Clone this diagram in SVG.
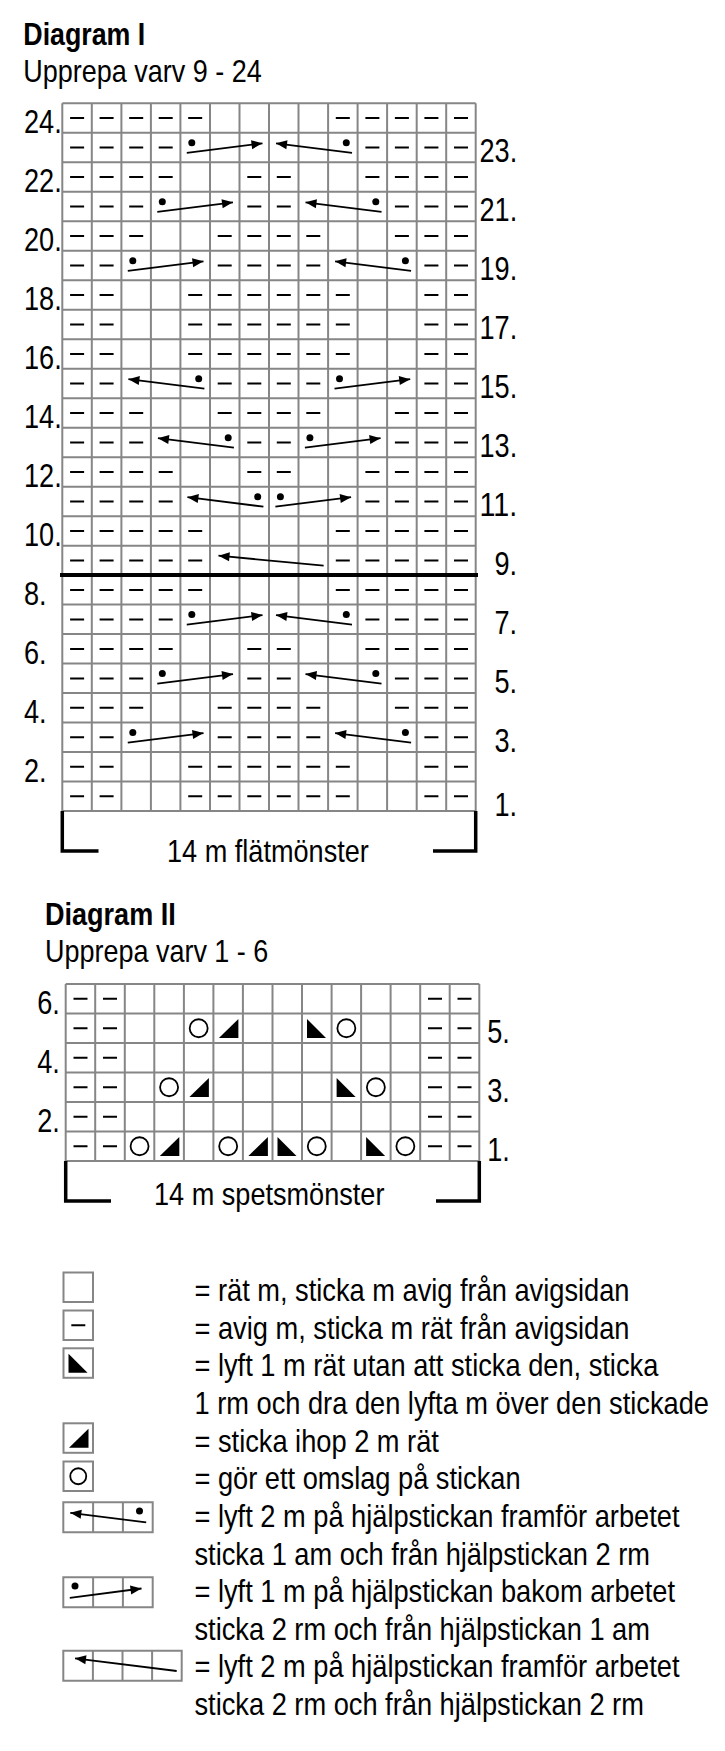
<svg xmlns="http://www.w3.org/2000/svg" width="725" height="1751" viewBox="0 0 725 1751">
<style>
text{font-family:"Liberation Sans",Arial,sans-serif;fill:#000}
.t{font-size:32px;font-weight:bold}
.s{font-size:32px}
.n{font-size:33px}
.grid{fill:none;stroke:#868686;stroke-width:2}
.dash{fill:none;stroke:#000;stroke-width:2}
.cab{fill:none;stroke:#000;stroke-width:1.8;marker-end:url(#ah)}
.dot{fill:#000}
.fill{fill:#000}
.yo{fill:none;stroke:#000;stroke-width:1.8}
.br{fill:none;stroke:#000;stroke-width:3.5}
.thick{fill:none;stroke:#000;stroke-width:4}
</style>
<defs>
<marker id="ah" markerUnits="userSpaceOnUse" markerWidth="11" markerHeight="9" refX="11" refY="4.5" orient="auto" overflow="visible"><path d="M0 0L11 4.5L0 9Z" fill="#000"/></marker>
<path id="pA" d="M70.1 0h14M99.6 0h14M129.2 0h14M158.7 0h14M188.2 0h14M335.8 0h14M365.4 0h14M394.9 0h14M424.4 0h14M454 0h14"/>
<path id="pB" d="M70.1 0h14M99.6 0h14M129.2 0h14M158.7 0h14M365.4 0h14M394.9 0h14M424.4 0h14M454 0h14"/>
<path id="pC" d="M70.1 0h14M99.6 0h14M129.2 0h14M158.7 0h14M247.3 0h14M276.8 0h14M365.4 0h14M394.9 0h14M424.4 0h14M454 0h14"/>
<path id="pD" d="M70.1 0h14M99.6 0h14M129.2 0h14M247.3 0h14M276.8 0h14M394.9 0h14M424.4 0h14M454 0h14"/>
<path id="pE" d="M70.1 0h14M99.6 0h14M129.2 0h14M217.7 0h14M247.3 0h14M276.8 0h14M306.3 0h14M394.9 0h14M424.4 0h14M454 0h14"/>
<path id="pF" d="M70.1 0h14M99.6 0h14M217.7 0h14M247.3 0h14M276.8 0h14M306.3 0h14M424.4 0h14M454 0h14"/>
<path id="pG" d="M70.1 0h14M99.6 0h14M188.2 0h14M217.7 0h14M247.3 0h14M276.8 0h14M306.3 0h14M335.8 0h14M424.4 0h14M454 0h14"/>
<path id="pH" d="M73.5 0h14M103 0h14M428 0h14M457.5 0h14"/>
<path id="k2" d="M25 5.5V24.5H5.5Z"/>
<path id="ssk" d="M5 5.5V24.5H24Z"/>
<circle id="yo" cx="14.77" cy="14.75" r="9"/>
</defs>
<rect width="725" height="1751" fill="#fff"/>

<g id="title-1">
<text class="t" x="23.3" y="45" textLength="122" lengthAdjust="spacingAndGlyphs">Diagram I</text>
<text class="s" x="23.3" y="81.7" textLength="238.4" lengthAdjust="spacingAndGlyphs">Upprepa varv 9 - 24</text>
</g>

<g id="grid-1">
<path class="grid" d="M62.3 103.3H475.7M62.3 132.8H475.7M62.3 162.3H475.7M62.3 191.8H475.7M62.3 221.3H475.7M62.3 250.8H475.7M62.3 280.2H475.7M62.3 309.7H475.7M62.3 339.2H475.7M62.3 368.7H475.7M62.3 398.2H475.7M62.3 427.7H475.7M62.3 457.2H475.7M62.3 486.7H475.7M62.3 516.2H475.7M62.3 545.7H475.7M62.3 575.1H475.7M62.3 604.6H475.7M62.3 634.1H475.7M62.3 663.6H475.7M62.3 693.1H475.7M62.3 722.6H475.7M62.3 752.1H475.7M62.3 781.6H475.7M62.3 811.1H475.7M62.3 103.3V811.1M91.8 103.3V811.1M121.4 103.3V811.1M150.9 103.3V811.1M180.4 103.3V811.1M210 103.3V811.1M239.5 103.3V811.1M269 103.3V811.1M298.5 103.3V811.1M328.1 103.3V811.1M357.6 103.3V811.1M387.1 103.3V811.1M416.7 103.3V811.1M446.2 103.3V811.1M475.7 103.3V811.1"/>
<path class="thick" d="M60 575.1H478"/>
</g>

<g id="stitches-1" class="dash">
<use href="#pA" y="118"/>
<use href="#pB" y="147.5"/>
<use href="#pC" y="177"/>
<use href="#pD" y="206.5"/>
<use href="#pE" y="236"/>
<use href="#pF" y="265.5"/>
<use href="#pG" y="295"/>
<use href="#pG" y="324.5"/>
<use href="#pG" y="354"/>
<use href="#pF" y="383.5"/>
<use href="#pE" y="412.9"/>
<use href="#pD" y="442.4"/>
<use href="#pC" y="471.9"/>
<use href="#pB" y="501.4"/>
<use href="#pA" y="530.9"/>
<use href="#pA" y="560.4"/>
<use href="#pA" y="589.9"/>
<use href="#pB" y="619.4"/>
<use href="#pC" y="648.9"/>
<use href="#pD" y="678.4"/>
<use href="#pE" y="707.8"/>
<use href="#pF" y="737.3"/>
<use href="#pG" y="766.8"/>
<use href="#pG" y="796.3"/>
</g>

<g id="cables">
<path class="cab" d="M186.8 152.8L262.5 143.3"/><circle class="dot" cx="191.8" cy="142.8" r="3.5"/>
<path class="cab" d="M352 152.8L276 143.3"/><circle class="dot" cx="346.3" cy="142.8" r="3.5"/>
<path class="cab" d="M157.3 211.8L233 202.3"/><circle class="dot" cx="162.3" cy="201.8" r="3.5"/>
<path class="cab" d="M381.5 211.8L305.5 202.3"/><circle class="dot" cx="375.8" cy="201.8" r="3.5"/>
<path class="cab" d="M127.8 270.8L203.5 261.3"/><circle class="dot" cx="132.8" cy="260.8" r="3.5"/>
<path class="cab" d="M411.1 270.8L335.1 261.3"/><circle class="dot" cx="405.4" cy="260.8" r="3.5"/>
<path class="cab" d="M204.4 388.7L128.4 379.2"/><circle class="dot" cx="198.7" cy="378.7" r="3.5"/>
<path class="cab" d="M334.5 388.7L410.2 379.2"/><circle class="dot" cx="339.5" cy="378.7" r="3.5"/>
<path class="cab" d="M233.9 447.7L157.9 438.2"/><circle class="dot" cx="228.2" cy="437.7" r="3.5"/>
<path class="cab" d="M304.9 447.7L380.6 438.2"/><circle class="dot" cx="309.9" cy="437.7" r="3.5"/>
<path class="cab" d="M263.4 506.7L187.4 497.2"/><circle class="dot" cx="257.7" cy="496.7" r="3.5"/>
<path class="cab" d="M275.4 506.7L351.1 497.2"/><circle class="dot" cx="280.4" cy="496.7" r="3.5"/>
<path class="cab" d="M323.6 565.7L218.5 555.7"/>
<path class="cab" d="M186.8 624.6L262.5 615.1"/><circle class="dot" cx="191.8" cy="614.6" r="3.5"/>
<path class="cab" d="M352 624.6L276 615.1"/><circle class="dot" cx="346.3" cy="614.6" r="3.5"/>
<path class="cab" d="M157.3 683.6L233 674.1"/><circle class="dot" cx="162.3" cy="673.6" r="3.5"/>
<path class="cab" d="M381.5 683.6L305.5 674.1"/><circle class="dot" cx="375.8" cy="673.6" r="3.5"/>
<path class="cab" d="M127.8 742.6L203.5 733.1"/><circle class="dot" cx="132.8" cy="732.6" r="3.5"/>
<path class="cab" d="M411.1 742.6L335.1 733.1"/><circle class="dot" cx="405.4" cy="732.6" r="3.5"/>
</g>

<g id="labels-1" class="n">
<text x="24" y="132.8" textLength="37.7" lengthAdjust="spacingAndGlyphs">24.</text>
<text x="24" y="191.8" textLength="37.7" lengthAdjust="spacingAndGlyphs">22.</text>
<text x="24" y="250.8" textLength="37.7" lengthAdjust="spacingAndGlyphs">20.</text>
<text x="24" y="309.7" textLength="37.7" lengthAdjust="spacingAndGlyphs">18.</text>
<text x="24" y="368.7" textLength="37.7" lengthAdjust="spacingAndGlyphs">16.</text>
<text x="24" y="427.7" textLength="37.7" lengthAdjust="spacingAndGlyphs">14.</text>
<text x="24" y="486.7" textLength="37.7" lengthAdjust="spacingAndGlyphs">12.</text>
<text x="24" y="545.7" textLength="37.7" lengthAdjust="spacingAndGlyphs">10.</text>
<text x="24" y="604.6" textLength="22.6" lengthAdjust="spacingAndGlyphs">8.</text>
<text x="24" y="663.6" textLength="22.6" lengthAdjust="spacingAndGlyphs">6.</text>
<text x="24" y="722.6" textLength="22.6" lengthAdjust="spacingAndGlyphs">4.</text>
<text x="24" y="781.6" textLength="22.6" lengthAdjust="spacingAndGlyphs">2.</text>
<text x="479.5" y="162.3" textLength="37.7" lengthAdjust="spacingAndGlyphs">23.</text>
<text x="479.5" y="221.3" textLength="37.7" lengthAdjust="spacingAndGlyphs">21.</text>
<text x="479.5" y="280.2" textLength="37.7" lengthAdjust="spacingAndGlyphs">19.</text>
<text x="479.5" y="339.2" textLength="37.7" lengthAdjust="spacingAndGlyphs">17.</text>
<text x="479.5" y="398.2" textLength="37.7" lengthAdjust="spacingAndGlyphs">15.</text>
<text x="479.5" y="457.2" textLength="37.7" lengthAdjust="spacingAndGlyphs">13.</text>
<text x="479.5" y="516.2" textLength="37.7" lengthAdjust="spacingAndGlyphs">11.</text>
<text x="494.5" y="575.1" textLength="22.6" lengthAdjust="spacingAndGlyphs">9.</text>
<text x="494.5" y="634.1" textLength="22.6" lengthAdjust="spacingAndGlyphs">7.</text>
<text x="494.5" y="693.1" textLength="22.6" lengthAdjust="spacingAndGlyphs">5.</text>
<text x="494.5" y="752.1" textLength="22.6" lengthAdjust="spacingAndGlyphs">3.</text>
<text x="494.5" y="816" textLength="22.6" lengthAdjust="spacingAndGlyphs">1.</text>
</g>

<g id="bracket-1">
<path class="br" d="M62.3 811V851H98.5M433 851H475.7V811"/>
<text class="s" x="167" y="861.7" textLength="201.8" lengthAdjust="spacingAndGlyphs">14 m flätmönster</text>
</g>

<g id="title-2">
<text class="t" x="45" y="925" textLength="130.7" lengthAdjust="spacingAndGlyphs">Diagram II</text>
<text class="s" x="45" y="961.7" textLength="223.3" lengthAdjust="spacingAndGlyphs">Upprepa varv 1 - 6</text>
</g>

<g id="grid-2">
<path class="grid" d="M65.7 984H479.3M65.7 1013.5H479.3M65.7 1043H479.3M65.7 1072.5H479.3M65.7 1102H479.3M65.7 1131.5H479.3M65.7 1161H479.3M65.7 984V1161M95.2 984V1161M124.8 984V1161M154.3 984V1161M183.9 984V1161M213.4 984V1161M242.9 984V1161M272.5 984V1161M302 984V1161M331.6 984V1161M361.1 984V1161M390.6 984V1161M420.2 984V1161M449.7 984V1161M479.3 984V1161"/>
</g>

<g id="stitches-2">
<g class="dash">
<use href="#pH" y="998.75"/>
<use href="#pH" y="1028.25"/>
<use href="#pH" y="1057.75"/>
<use href="#pH" y="1087.25"/>
<use href="#pH" y="1116.75"/>
<use href="#pH" y="1146.25"/>
</g>
<g class="yo">
<use href="#yo" x="183.9" y="1013.5"/>
<use href="#yo" x="331.6" y="1013.5"/>
<use href="#yo" x="154.3" y="1072.5"/>
<use href="#yo" x="361.1" y="1072.5"/>
<use href="#yo" x="124.8" y="1131.5"/>
<use href="#yo" x="213.4" y="1131.5"/>
<use href="#yo" x="302" y="1131.5"/>
<use href="#yo" x="390.6" y="1131.5"/>
</g>
<g class="fill">
<use href="#k2" x="213.4" y="1013.5"/>
<use href="#ssk" x="302" y="1013.5"/>
<use href="#k2" x="183.9" y="1072.5"/>
<use href="#ssk" x="331.6" y="1072.5"/>
<use href="#k2" x="154.3" y="1131.5"/>
<use href="#k2" x="242.9" y="1131.5"/>
<use href="#ssk" x="272.5" y="1131.5"/>
<use href="#ssk" x="361.1" y="1131.5"/>
</g>
</g>

<g id="labels-2" class="n">
<text x="37.3" y="1013.5" textLength="22.6" lengthAdjust="spacingAndGlyphs">6.</text>
<text x="37.3" y="1072.5" textLength="22.6" lengthAdjust="spacingAndGlyphs">4.</text>
<text x="37.3" y="1131.5" textLength="22.6" lengthAdjust="spacingAndGlyphs">2.</text>
<text x="487.3" y="1043" textLength="22.6" lengthAdjust="spacingAndGlyphs">5.</text>
<text x="487.3" y="1102" textLength="22.6" lengthAdjust="spacingAndGlyphs">3.</text>
<text x="487.3" y="1161" textLength="22.6" lengthAdjust="spacingAndGlyphs">1.</text>
</g>

<g id="bracket-2">
<path class="br" d="M65.7 1161V1201H111M436 1201H479.3V1161"/>
<text class="s" x="154" y="1205" textLength="230.4" lengthAdjust="spacingAndGlyphs">14 m spetsmönster</text>
</g>

<g id="legend">
<g id="legend-symbols">
<rect class="grid" x="63.5" y="1272.5" width="29.5" height="29.5"/>
<rect class="grid" x="63.5" y="1310.5" width="29.5" height="29.5"/>
<path class="dash" d="M71.3 1325.25h14"/>
<rect class="grid" x="63.5" y="1348.3" width="29.5" height="29.5"/>
<use href="#ssk" class="fill" x="63.5" y="1348.3"/>
<rect class="grid" x="63.5" y="1423.3" width="29.5" height="29.5"/>
<use href="#k2" class="fill" x="63.5" y="1423.3"/>
<rect class="grid" x="63.5" y="1461.5" width="29.5" height="29.5"/>
<circle class="yo" cx="78.25" cy="1476.25" r="8"/>
<path class="grid" d="M63.3 1502.3H152.7V1532.3H63.3ZM93.1 1502.3V1532.3M122.9 1502.3V1532.3"/>
<path class="cab" d="M146.2 1522.3L70.3 1512.8"/><circle class="dot" cx="139.5" cy="1511" r="3.5"/>
<path class="grid" d="M63.3 1577.3H152.7V1607.3H63.3ZM93.1 1577.3V1607.3M122.9 1577.3V1607.3"/>
<path class="cab" d="M69.8 1597.8L141.5 1588.5"/><circle class="dot" cx="75" cy="1586" r="3.5"/>
<path class="grid" d="M63.3 1650.7H181.7V1680.7H63.3ZM92.9 1650.7V1680.7M122.5 1650.7V1680.7M152.1 1650.7V1680.7"/>
<path class="cab" d="M176.7 1671L75 1658.3"/>
</g>
<g id="legend-texts" class="s" transform="translate(194.5 0) scale(0.851 1)">
<text x="0" y="1301">= rät m, sticka m avig från avigsidan</text>
<text x="0" y="1338.7">= avig m, sticka m rät från avigsidan</text>
<text x="0" y="1376.3">= lyft 1 m rät utan att sticka den, sticka</text>
<text x="0" y="1414">1 rm och dra den lyfta m över den stickade</text>
<text x="0" y="1451.6">= sticka ihop 2 m rät</text>
<text x="0" y="1489.3">= gör ett omslag på stickan</text>
<text x="0" y="1527">= lyft 2 m på hjälpstickan framför arbetet</text>
<text x="0" y="1564.6">sticka 1 am och från hjälpstickan 2 rm</text>
<text x="0" y="1602.2">= lyft 1 m på hjälpstickan bakom arbetet</text>
<text x="0" y="1639.9">sticka 2 rm och från hjälpstickan 1 am</text>
<text x="0" y="1677.5">= lyft 2 m på hjälpstickan framför arbetet</text>
<text x="0" y="1715.2">sticka 2 rm och från hjälpstickan 2 rm</text>
</g>
</g>
</svg>
